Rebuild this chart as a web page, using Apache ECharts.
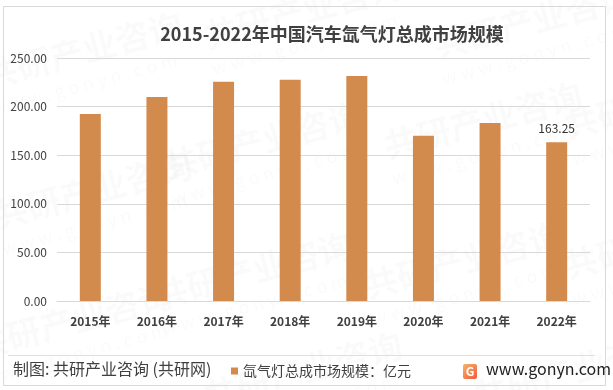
<!DOCTYPE html>
<html>
<head>
<meta charset="utf-8">
<script src="https://cdn.jsdelivr.net/npm/echarts@6/dist/echarts.min.js"></script>
<style>
html,body{margin:0;padding:0;background:#fff;}
#c{width:613px;height:390px;}
</style>
</head>
<body>
<div id="c"></div>
<script>
const categories = ['2015年','2016年','2017年','2018年','2019年','2020年','2021年','2022年'];
const values = [192.5, 210, 225.5, 227.5, 231.5, 170, 183, 163.25];
const labeledIndex = [7];
const seriesName = '氙气灯总成市场规模：亿元';
const titleText = '2015-2022年中国汽车氙气灯总成市场规模';
const sourceText = '制图: 共研产业咨询 (共研网)';
const siteText = 'www.gonyn.com';

const FONT = '"Noto Sans CJK SC", "Microsoft YaHei", sans-serif';
const TXT = '#404040';

const chart = echarts.init(document.getElementById('c'), null, {renderer:'canvas'});

const watermarks = [];
const wmPos = [[-20,60],[200,20],[430,30],[-10,200],[160,150],[380,130],[560,110],[-30,330],[150,280],[360,270],[560,250],[200,380],[470,380]];
wmPos.forEach(p => {
  watermarks.push({type:'text', x:p[0], y:p[1], rotation:0.26, silent:true, z:0,
    style:{text:'共研产业咨询', font:'bold 34px ' + FONT, fill:'rgba(0,0,0,0.02)'}});
  watermarks.push({type:'text', x:p[0]+10, y:p[1]+40, rotation:0.26, silent:true, z:0,
    style:{text:'w w w . g o n y n . c o m', font:'18px ' + FONT, fill:'rgba(0,0,0,0.02)'}});
});

chart.setOption({
  backgroundColor:'#fff',
  animation:false,
  title:{text:titleText, left:327, top:20, textAlign:'center',
    textStyle:{fontFamily:FONT, fontSize:18, fontWeight:'bold', color:TXT}},
  grid:{left:57, right:23, top:58, bottom:89, containLabel:false},
  legend:{data:[seriesName], left:226, top:359, itemWidth:7, itemHeight:7, itemGap:3,
    icon:'rect', textStyle:{fontFamily:FONT, fontSize:14, color:TXT}},
  xAxis:{type:'category', data:categories,
    axisLine:{lineStyle:{color:'#d9d9d9'}}, axisTick:{show:false},
    axisLabel:{fontFamily:FONT, fontSize:12, fontWeight:'bold', color:TXT, margin:14}},
  yAxis:{type:'value', min:0, max:250, interval:50,
    axisLine:{show:false}, axisTick:{show:false},
    splitLine:{lineStyle:{color:'#d9d9d9'}},
    axisLabel:{fontFamily:FONT, fontSize:12, color:TXT, margin:10,
      formatter:v => v.toFixed(2)}},
  series:[{name:seriesName, type:'bar', barWidth:21, z:2,
    itemStyle:{color:'#D38B4D'},
    data:values.map((v,i)=>({value:v, label:{show:labeledIndex.includes(i), position:'top',
      distance:8, fontFamily:FONT, fontSize:12, color:'#333', formatter:p=>p.value.toFixed(2)}}))}],
  graphic:[
    ...watermarks,
    {type:'rect', shape:{x:3.5, y:6.5, width:602, height:379}, silent:true, z:1,
      style:{fill:'none', stroke:'#d9d9d9', lineWidth:1}},
    {type:'line', shape:{x1:8, y1:355.5, x2:595, y2:355.5}, silent:true, z:1,
      style:{stroke:'#e0e0e0', lineWidth:1}},
    {type:'text', left:13, top:361, z:3,
      style:{text:sourceText, font:'16px ' + FONT, fill:TXT}},
    {type:'rect', shape:{x:463, y:364, width:14, height:15, r:2}, z:3,
      style:{fill:new echarts.graphic.LinearGradient(0,0,1,1,[{offset:0,color:'#f7b26a'},{offset:1,color:'#f05a3c'}])}},
    {type:'text', x:470, y:371.5, z:4,
      style:{text:'G', font:'bold 12px ' + FONT, fill:'#fff', textAlign:'center', textVerticalAlign:'middle'}},
    {type:'text', left:486, top:361, z:3,
      style:{text:siteText, font:'16px ' + FONT, fill:'#222'}}
  ]
});
</script>
</body>
</html>
